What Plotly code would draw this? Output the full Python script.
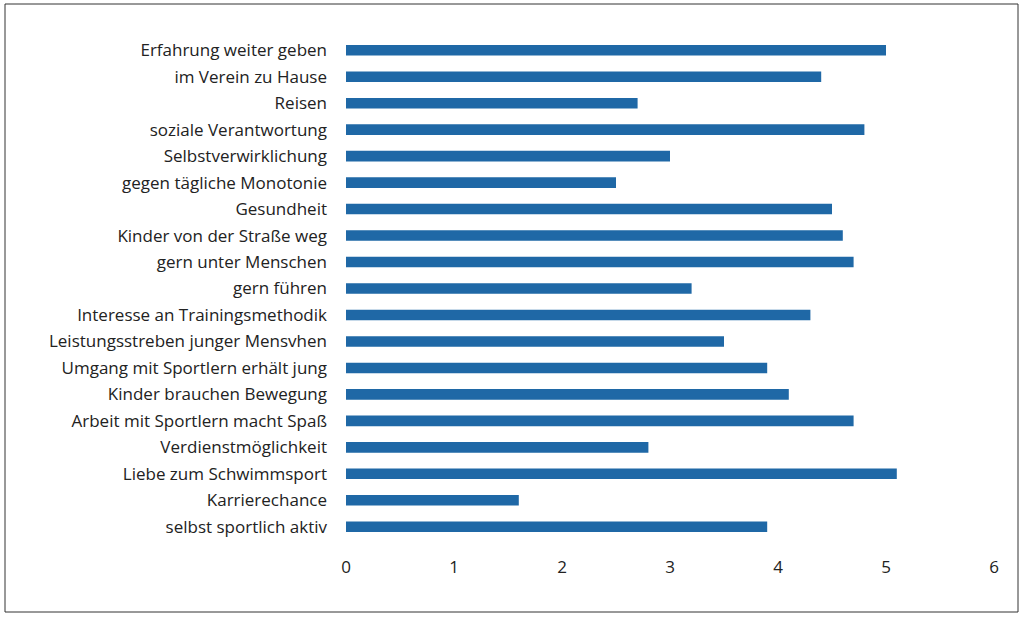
import plotly.graph_objects as go

categories = [
    "Erfahrung weiter geben",
    "im Verein zu Hause",
    "Reisen",
    "soziale Verantwortung",
    "Selbstverwirklichung",
    "gegen tägliche Monotonie",
    "Gesundheit",
    "Kinder von der Straße weg",
    "gern unter Menschen",
    "gern führen",
    "Interesse an Trainingsmethodik",
    "Leistungsstreben junger Mensvhen",
    "Umgang mit Sportlern erhält jung",
    "Kinder brauchen Bewegung",
    "Arbeit mit Sportlern macht Spaß",
    "Verdienstmöglichkeit",
    "Liebe zum Schwimmsport",
    "Karrierechance",
    "selbst sportlich aktiv",
]
values = [5.0, 4.4, 2.7, 4.8, 3.0, 2.5, 4.5, 4.6, 4.7, 3.2, 4.3, 3.5, 3.9, 4.1, 4.7, 2.8, 5.1, 1.6, 3.9]
x_ticks = [0, 1, 2, 3, 4, 5, 6]

fig = go.Figure(go.Bar(
    x=values, y=categories, orientation="h",
    marker=dict(color="#1f68a6", line=dict(width=0)),
))

L, R, T, B = 346, 30, 37, 81
W, H = 1024, 621
pw, ph = W - L - R, H - T - B

fig.update_layout(
    width=W, height=H,
    margin=dict(l=L, r=R, t=T, b=B),
    paper_bgcolor="white", plot_bgcolor="white",
    bargap=0.6,
    showlegend=False,
    font=dict(family="'Open Sans', Lato, sans-serif", size=17, color="#222222"),
    xaxis=dict(range=[0, 6], tickvals=x_ticks, showgrid=False, zeroline=False,
               showline=False, ticks="", ticklabelstandoff=15),
    yaxis=dict(autorange="reversed", showgrid=False, zeroline=False, showline=False,
               ticks="", ticklabelstandoff=18),
    shapes=[dict(type="rect", xref="paper", yref="paper",
                 x0=(5 - L) / pw, x1=(1018 - L) / pw,
                 y0=(H - B - 612) / ph, y1=(H - B - 4) / ph,
                 line=dict(color="#333333", width=1))],
)

fig.write_html("out.html")
